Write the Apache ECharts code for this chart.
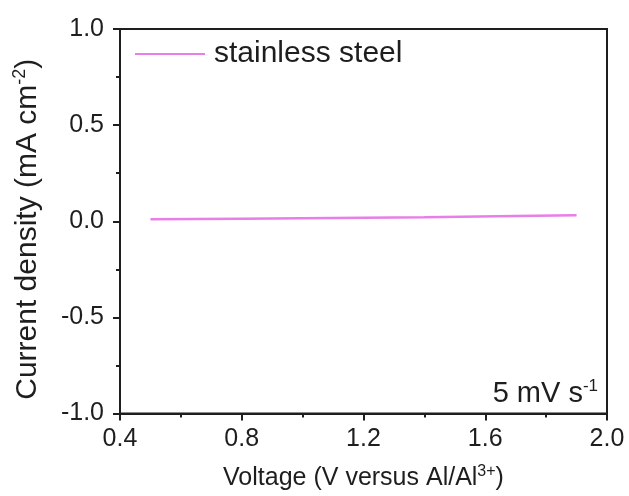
<!DOCTYPE html>
<html>
<head>
<meta charset="utf-8">
<script src="https://cdn.jsdelivr.net/npm/echarts@6/dist/echarts.min.js"></script>
<style>
  html, body { margin: 0; padding: 0; background: #fff; }
  #main { width: 629px; height: 496px; }
</style>
</head>
<body>
<div id="main"></div>
<script>
// voltage (V vs Al/Al3+) and current density (mA cm-2)
const voltage = [0.5, 0.8, 1.1, 1.4, 1.7, 1.9];
const current = [0.010, 0.013, 0.017, 0.021, 0.027, 0.031];
const seriesName = "stainless steel";
const xTicks = [0.4, 0.8, 1.2, 1.6, 2.0];
const yTicks = [-1.0, -0.5, 0.0, 0.5, 1.0];

const chart = echarts.init(document.getElementById("main"));
const font = "Liberation Sans, Arial, sans-serif";
const ink = "#1e1e1e";

const option = {
    backgroundColor: "#fff",
    animation: false,
    grid: { left: 120, top: 29, right: 22, bottom: 81, show: true, borderColor: ink, borderWidth: 2 },
    legend: {
        data: [seriesName],
        left: 130, top: 34,
        icon: "rect",
        itemWidth: 70, itemHeight: 2,
        textStyle: { fontFamily: font, fontSize: 30, color: ink, padding: [0, 0, 0, 4] }
    },
    xAxis: {
        type: "value",
        min: xTicks[0], max: xTicks[xTicks.length - 1], interval: 0.4,
        name: "{a|Voltage (V versus Al/Al}{s|3+}{a|)}",
        nameLocation: "middle", nameGap: 50,
        nameTextStyle: {
            rich: {
                a: { fontFamily: font, fontSize: 25, color: ink },
                s: { fontFamily: font, fontSize: 16, color: ink, verticalAlign: "bottom", padding: [0, 0, 14, 0] }
            }
        },
        axisLine: { onZero: false, lineStyle: { color: ink, width: 2 } },
        axisTick: { inside: false, length: 7, lineStyle: { color: ink, width: 2 } },
        minorTick: { show: true, splitNumber: 2, length: 4, lineStyle: { color: ink, width: 2 } },
        axisLabel: { fontFamily: font, fontSize: 25, color: ink, margin: 13, formatter: v => v.toFixed(1) },
        splitLine: { show: false }
    },
    yAxis: {
        type: "value",
        min: yTicks[0], max: yTicks[yTicks.length - 1], interval: 0.5,
        name: "{a|Current density (mA cm}{s|-2}{a|)}",
        nameLocation: "middle", nameGap: 76,
        nameTextStyle: {
            padding: [0, 16, 0, 0],
            rich: {
                a: { fontFamily: font, fontSize: 30, color: ink },
                s: { fontFamily: font, fontSize: 18, color: ink, verticalAlign: "bottom", padding: [0, 0, 15, 0] }
            }
        },
        axisLine: { lineStyle: { color: ink, width: 2 } },
        axisTick: { inside: false, length: 7, lineStyle: { color: ink, width: 2 } },
        minorTick: { show: true, splitNumber: 2, length: 4, lineStyle: { color: ink, width: 2 } },
        axisLabel: { fontFamily: font, fontSize: 25, color: ink, margin: 16, formatter: v => v.toFixed(1) },
        splitLine: { show: false }
    },
    graphic: [
        {
            type: "text",
            right: 31, bottom: 88,
            style: {
                text: "{a|5 mV s}{s|-1}",
                rich: {
                    a: { fontFamily: font, fontSize: 29, fill: ink },
                    s: { fontFamily: font, fontSize: 17, fill: ink, verticalAlign: "bottom", padding: [0, 0, 15, 0] }
                }
            }
        }
    ],
    series: [
        {
            name: seriesName,
            type: "line",
            data: voltage.map((v, i) => [v, current[i]]),
            symbol: "none",
            lineStyle: { color: "#e87ee8", width: 2.5 },
            itemStyle: { color: "#e87ee8" }
        }
    ]
};

chart.setOption(option);
</script>
</body>
</html>
